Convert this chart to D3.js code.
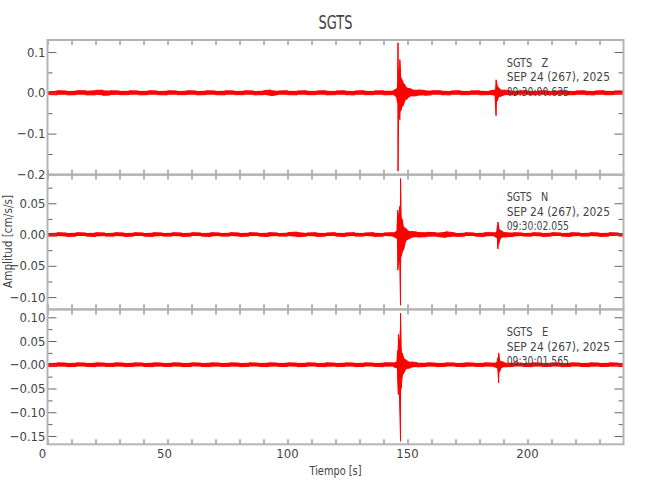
<!DOCTYPE html>
<html><head><meta charset="utf-8">
<script src="https://cdn.jsdelivr.net/npm/d3@7"></script>
<style>
body{margin:0;background:#fff;}
text{font-family:"Liberation Sans Narrow","DejaVu Sans Condensed","Arial Narrow",sans-serif;fill:#444;}
</style></head><body>
<svg id="c" width="650" height="500" xmlns="http://www.w3.org/2000/svg"></svg>
<script>
// ---------------- data ----------------
const stationName = "SGTS";
const components = ["Z", "N", "E"];
const dateLabel = "SEP 24 (267), 2025";
const startTimes = ["09:30:00.635", "09:30:02.055", "09:30:01.565"];
const timeDomain = [0, 240];
const xMajorTicks = [0, 50, 100, 150, 200];
const xMinorTicks = [10,20,30,40,60,70,80,90,110,120,130,140,160,170,180,190,210,220,230];
const xTickLabels = ["0", "50", "100", "150", "200"];
const yDomainZ = [-0.201, 0.1295];
const yDomainN = [-0.1195, 0.096];
const yDomainE = [-0.1675, 0.1164];
const yMajorZ = [0.1, 0.0, -0.1, -0.2];
const yLabelsZ = ["0.1", "0.0", "\u22120.1", "\u22120.2"];
const yMinorZ = [0.05, -0.05, -0.15];
const yMajorN = [0.05, 0.0, -0.05, -0.10];
const yLabelsN = ["0.05", "0.00", "\u22120.05", "\u22120.10"];
const yMinorN = [0.075, 0.025, -0.025, -0.075];
const yMajorE = [0.10, 0.05, 0.0, -0.05, -0.10, -0.15];
const yLabelsE = ["0.10", "0.05", "\u22120.00", "\u22120.05", "\u22120.10", "\u22120.15"];
const yMinorE = [0.075, 0.025, -0.025, -0.075, -0.125];

// envelope samples: [time s, max, min]
const traceZ = [
[0,0.004,-0.004],[4,0.005,-0.005],[8,0.0045,-0.005],[12,0.005,-0.0045],[16,0.005,-0.005],[20,0.006,-0.005],[23,0.0065,-0.006],[26,0.005,-0.0055],[30,0.0045,-0.0045],[34,0.005,-0.0045],[38,0.0045,-0.005],[42,0.005,-0.0045],[46,0.0045,-0.0045],[50,0.005,-0.005],[54,0.0045,-0.0045],[58,0.005,-0.0045],[62,0.0045,-0.005],[66,0.005,-0.0045],[70,0.0045,-0.0045],[74,0.005,-0.005],[78,0.0045,-0.0045],[82,0.005,-0.0045],[86,0.0045,-0.005],[90,0.005,-0.0045],[93,0.007,-0.007],[96,0.0045,-0.0045],[100,0.005,-0.0045],[104,0.0045,-0.005],[108,0.005,-0.0045],[112,0.0045,-0.0045],[116,0.005,-0.005],[120,0.0045,-0.0045],[124,0.005,-0.0045],[128,0.0045,-0.005],[132,0.005,-0.0045],[136,0.0045,-0.0045],[140,0.005,-0.005],[144,0.005,-0.0045],
[145.5,0.010,-0.012],[145.9,0.030,-0.025],[146.05,0.1227,-0.192],[146.25,0.040,-0.050],[146.5,0.060,-0.040],[146.8,0.0815,-0.066],[147.1,0.050,-0.045],[147.5,0.035,-0.040],[148,0.028,-0.033],[148.6,0.022,-0.025],[149.3,0.015,-0.017],[150.5,0.011,-0.011],[152,0.008,-0.008],[154,0.007,-0.007],[157,0.006,-0.006],[160,0.005,-0.005],[164,0.005,-0.0045],[168,0.0045,-0.005],[172,0.005,-0.0045],[176,0.0045,-0.0045],[180,0.005,-0.005],[184,0.0045,-0.0045],
[186.5,0.007,-0.007],[186.9,0.032,-0.056],[187.3,0.020,-0.020],[187.8,0.014,-0.013],[188.5,0.009,-0.009],[190,0.007,-0.006],[193,0.005,-0.005],[196,0.0045,-0.0045],[200,0.005,-0.0045],[204,0.0045,-0.005],[208,0.005,-0.0045],[212,0.0045,-0.0045],[216,0.005,-0.005],[220,0.0045,-0.0045],[224,0.005,-0.0045],[228,0.0045,-0.005],[232,0.005,-0.0045],[236,0.0045,-0.0045],[240,0.0045,-0.0045]
];
const traceN = [
[0,0.0025,-0.0025],[4,0.003,-0.0025],[8,0.0025,-0.003],[12,0.003,-0.0025],[16,0.0025,-0.0025],[20,0.003,-0.003],[24,0.0025,-0.0025],[28,0.003,-0.0025],[32,0.0025,-0.003],[36,0.003,-0.0025],[40,0.0025,-0.0025],[44,0.003,-0.003],[48,0.0025,-0.0025],[52,0.003,-0.0025],[56,0.0025,-0.003],[60,0.003,-0.0025],[64,0.0025,-0.0025],[68,0.003,-0.003],[72,0.0025,-0.0025],[76,0.003,-0.0025],[80,0.0025,-0.003],[84,0.003,-0.0025],[88,0.0025,-0.0025],[92,0.003,-0.003],[96,0.0025,-0.0025],[100,0.003,-0.0025],[104,0.004,-0.0035],[108,0.0025,-0.0025],[112,0.003,-0.003],[116,0.0025,-0.0025],[120,0.003,-0.0025],[124,0.0025,-0.003],[128,0.003,-0.0025],[132,0.0025,-0.0025],[136,0.003,-0.003],[140,0.0025,-0.0025],[144,0.003,-0.003],
[145.6,0.006,-0.006],[145.95,0.039,-0.057],[146.4,0.030,-0.040],[146.8,0.045,-0.050],[147.1,0.0895,-0.113],[147.35,0.030,-0.035],[147.7,0.025,-0.030],[148.3,0.012,-0.025],[149,0.011,-0.014],[150,0.007,-0.008],[151.5,0.005,-0.005],[154,0.004,-0.004],[158,0.0035,-0.0035],[162,0.003,-0.003],[166,0.0045,-0.0045],[170,0.0025,-0.003],[174,0.003,-0.0025],[178,0.0025,-0.0025],[182,0.003,-0.003],[186,0.003,-0.0025],
[187.2,0.005,-0.005],[187.5,0.015,-0.015],[187.7,0.020,-0.023],[188,0.012,-0.015],[188.6,0.007,-0.007],[190,0.004,-0.004],[194,0.003,-0.003],[198,0.0025,-0.0025],[202,0.003,-0.0025],[206,0.0025,-0.003],[210,0.003,-0.0025],[214,0.0025,-0.0025],[218,0.003,-0.003],[222,0.0025,-0.0025],[226,0.003,-0.0025],[230,0.0025,-0.003],[234,0.003,-0.0025],[238,0.0025,-0.0025],[240,0.0025,-0.0025]
];
const traceE = [
[0,0.0035,-0.0035],[4,0.004,-0.0035],[8,0.0035,-0.004],[12,0.004,-0.0035],[16,0.0035,-0.0035],[20,0.004,-0.004],[24,0.0035,-0.0035],[28,0.004,-0.0035],[32,0.0035,-0.004],[36,0.004,-0.0035],[40,0.0035,-0.0035],[44,0.004,-0.004],[48,0.0035,-0.0035],[52,0.004,-0.0035],[56,0.0035,-0.004],[60,0.004,-0.0035],[64,0.0035,-0.0035],[68,0.004,-0.004],[72,0.0035,-0.0035],[76,0.004,-0.0035],[80,0.0035,-0.004],[84,0.004,-0.0035],[88,0.0035,-0.0035],[92,0.004,-0.004],[96,0.0035,-0.0035],[100,0.004,-0.0035],[104,0.0035,-0.004],[108,0.004,-0.0035],[112,0.0035,-0.0035],[116,0.004,-0.004],[120,0.0035,-0.0035],[124,0.004,-0.0035],[128,0.0035,-0.004],[132,0.004,-0.0035],[136,0.0035,-0.0035],[140,0.004,-0.004],[144,0.004,-0.0035],
[145.6,0.007,-0.007],[145.9,0.030,-0.030],[146.2,0.064,-0.0625],[146.6,0.050,-0.050],[147.1,0.1085,-0.161],[147.35,0.040,-0.050],[147.7,0.025,-0.030],[148.3,0.017,-0.019],[149,0.011,-0.012],[150,0.008,-0.008],[151.5,0.006,-0.006],[154,0.0045,-0.0045],[158,0.004,-0.0035],[162,0.0035,-0.004],[166,0.004,-0.0035],[170,0.0035,-0.0035],[174,0.004,-0.004],[178,0.0035,-0.0035],[182,0.004,-0.0035],[186,0.0035,-0.004],
[187.3,0.006,-0.006],[187.7,0.015,-0.015],[188,0.025,-0.038],[188.3,0.012,-0.015],[189,0.007,-0.007],[190.5,0.0045,-0.0045],[194,0.004,-0.0035],[198,0.0035,-0.0035],[202,0.004,-0.004],[206,0.0035,-0.0035],[210,0.004,-0.0035],[214,0.0035,-0.004],[218,0.004,-0.0035],[222,0.0035,-0.0035],[226,0.004,-0.004],[230,0.0035,-0.0035],[234,0.004,-0.0035],[238,0.0035,-0.004],[240,0.0035,-0.0035]
];

// ---------------- layout ----------------
const svg = d3.select("#c");
const L = 47.5, R = 623.5;
const panelTops = [40, 174.5, 309.5];
const panelH = 134.8;
const frameColor = "#b4b4b4", tickColor = "#666";

const x = d3.scaleLinear().domain(timeDomain).range([L, R]);

const panels = [
  {trace: traceZ, dom: yDomainZ, maj: yMajorZ, lab: yLabelsZ, min: yMinorZ},
  {trace: traceN, dom: yDomainN, maj: yMajorN, lab: yLabelsN, min: yMinorN},
  {trace: traceE, dom: yDomainE, maj: yMajorE, lab: yLabelsE, min: yMinorE}
];

const defs = svg.append("defs");

panels.forEach((p, i) => {
  const top = panelTops[i], bot = top + panelH;
  const y = d3.scaleLinear().domain(p.dom).range([bot, top]);
  const g = svg.append("g");

  defs.append("clipPath").attr("id", "clip" + i)
    .append("rect").attr("x", L).attr("y", top).attr("width", R - L).attr("height", panelH);

  const tg = g.append("g").attr("clip-path", `url(#clip${i})`);
  const area = d3.area().x(d => x(d[0])).y0(d => y(d[2])).y1(d => y(d[1]));
  tg.append("path").datum(p.trace).attr("d", area).attr("fill", "#ff0000");
  const zig = [];
  p.trace.forEach((d, k) => {
    if (k % 2 === 0) { zig.push([d[0], d[1]]); zig.push([d[0], d[2]]); }
    else { zig.push([d[0], d[2]]); zig.push([d[0], d[1]]); }
  });
  tg.append("path").datum(zig)
    .attr("d", d3.line().x(d => x(d[0])).y(d => y(d[1])))
    .attr("fill", "none").attr("stroke", "#ff0000").attr("stroke-width", 1);

  // ticks via d3 axes (inward)
  const styleAxis = sel => { sel.select(".domain").remove(); sel.selectAll("line").attr("stroke", tickColor); };
  g.append("g").attr("transform", `translate(0,${bot})`)
    .call(d3.axisBottom(x).tickValues(xMajorTicks.concat(xMinorTicks)).tickSize(-5).tickFormat(""))
    .call(styleAxis).selectAll("text").remove();
  g.append("g").attr("transform", `translate(0,${top})`)
    .call(d3.axisTop(x).tickValues(xMajorTicks.concat(xMinorTicks)).tickSize(-5).tickFormat(""))
    .call(styleAxis).selectAll("text").remove();
  g.append("g").attr("transform", `translate(${L},0)`)
    .call(d3.axisLeft(y).tickValues(p.maj).tickSize(-9).tickPadding(2).tickFormat((d, k) => p.lab[k]))
    .call(styleAxis)
    .call(s => s.selectAll("text").attr("fill", "#444").style("font-size", "13px")
      .style("font-family", null));
  g.append("g").attr("transform", `translate(${L},0)`)
    .call(d3.axisLeft(y).tickValues(p.min).tickSize(-5).tickFormat(""))
    .call(styleAxis);
  g.append("g").attr("transform", `translate(${R},0)`)
    .call(d3.axisRight(y).tickValues(p.maj).tickSize(-9).tickFormat(""))
    .call(styleAxis);
  g.append("g").attr("transform", `translate(${R},0)`)
    .call(d3.axisRight(y).tickValues(p.min).tickSize(-5).tickFormat(""))
    .call(styleAxis);

  // frame
  g.append("rect").attr("x", L).attr("y", top).attr("width", R - L).attr("height", panelH)
    .attr("fill", "none").attr("stroke", frameColor).attr("stroke-width", 2);

  // annotation
  const ax = 506.7;
  const lines = [stationName + "   " + components[i], dateLabel, startTimes[i]];
  const widths = [41.6, 103.3, 62.3];
  const offs = [26.5, 41, 55.5];
  lines.forEach((t, k) => {
    g.append("text").attr("x", ax).attr("y", top + offs[k])
      .attr("xml:space", "preserve").style("white-space", "pre")
      .style("font-size", "13px")
      .attr("textLength", widths[k]).attr("lengthAdjust", "spacingAndGlyphs")
      .text(t);
  });
});

// x tick labels on bottom panel
const bottomY = panelTops[2] + panelH;
svg.append("g").selectAll("text").data(xMajorTicks).join("text")
  .attr("x", d => x(d) - (d === 0 ? 5 : d === 50 ? 3 : 0)).attr("y", bottomY + 14)
  .attr("text-anchor", "middle").style("font-size", "13px")
  .text((d, k) => xTickLabels[k]);

// titles
svg.append("text").attr("x", (L + R) / 2).attr("y", 29).attr("text-anchor", "middle")
  .style("font-size", "19px").attr("textLength", 34).attr("lengthAdjust", "spacingAndGlyphs")
  .text(stationName);
svg.append("text").attr("x", (L + R) / 2).attr("y", 474.5).attr("text-anchor", "middle")
  .style("font-size", "13px").attr("textLength", 52).attr("lengthAdjust", "spacingAndGlyphs")
  .text("Tiempo [s]");
svg.append("text").attr("transform", "translate(11.5,241.5) rotate(-90)").attr("text-anchor", "middle")
  .style("font-size", "13px").attr("textLength", 93).attr("lengthAdjust", "spacingAndGlyphs")
  .text("Amplitud [cm/s/s]");
</script>
</body></html>
